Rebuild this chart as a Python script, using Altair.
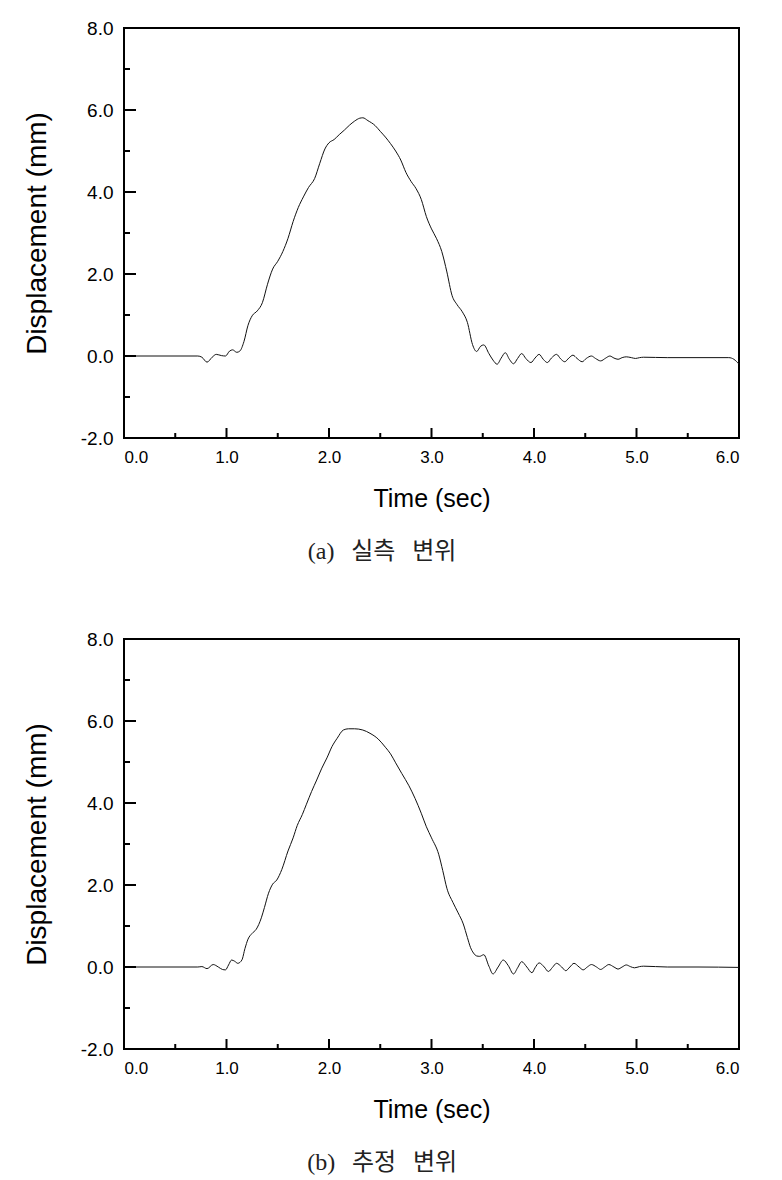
import altair as alt
import pandas as pd

# ---- data ----
t_a = [0.0, 0.72, 0.76, 0.81, 0.86, 0.90, 0.95, 0.99, 1.03, 1.06, 1.10, 1.13, 1.17, 1.21,
       1.25, 1.30, 1.35, 1.40, 1.45, 1.50, 1.55, 1.60, 1.65, 1.70, 1.75, 1.80, 1.86, 1.91,
       1.96, 2.00, 2.05, 2.10, 2.15, 2.20, 2.25, 2.30, 2.33, 2.38, 2.45, 2.50, 2.55, 2.60,
       2.65, 2.70, 2.75, 2.80, 2.85, 2.90, 2.95, 3.00, 3.05, 3.10, 3.15, 3.20, 3.25, 3.30,
       3.35, 3.40, 3.44, 3.48, 3.51, 3.56, 3.60, 3.64, 3.68, 3.72, 3.76, 3.80, 3.84, 3.88,
       3.92, 3.97, 4.01, 4.05, 4.09, 4.13, 4.17, 4.22, 4.26, 4.30, 4.34, 4.38, 4.42, 4.47,
       4.51, 4.56, 4.60, 4.65, 4.70, 4.74, 4.78, 4.82, 4.86, 4.90, 4.95, 4.99, 5.03, 5.07,
       5.30, 5.60, 5.90, 5.95, 6.0]
d_a = [0.0, 0.0, -0.03, -0.15, -0.03, 0.04, 0.01, 0.0, 0.12, 0.15, 0.09, 0.12, 0.35, 0.75,
       0.98, 1.10, 1.30, 1.75, 2.12, 2.31, 2.55, 2.87, 3.28, 3.62, 3.88, 4.11, 4.33, 4.70,
       5.05, 5.20, 5.28, 5.40, 5.51, 5.63, 5.73, 5.80, 5.81, 5.74, 5.62, 5.48, 5.34, 5.18,
       5.00, 4.78, 4.48, 4.26, 4.08, 3.82, 3.40, 3.10, 2.86, 2.55, 2.05, 1.48, 1.25, 1.08,
       0.82, 0.28, 0.11, 0.24, 0.27, 0.06, -0.10, -0.20, -0.05, 0.08, -0.08, -0.19, -0.06, 0.06,
       -0.06, -0.16, -0.05, 0.04, -0.08, -0.16, -0.05, 0.04, -0.07, -0.14, -0.05, 0.02, -0.06, -0.14,
       -0.06, 0.0, -0.06, -0.12, -0.05, 0.0, -0.05, -0.08, -0.04, -0.02, -0.04, -0.06, -0.04, -0.03,
       -0.04, -0.04, -0.04, -0.08, -0.20]

t_b = [0.0, 0.72, 0.76, 0.81, 0.87, 0.92, 0.96, 0.99, 1.02, 1.05, 1.08, 1.11, 1.15, 1.18,
       1.21, 1.25, 1.29, 1.34, 1.37, 1.41, 1.45, 1.49, 1.54, 1.60, 1.65, 1.69, 1.74, 1.78,
       1.83, 1.88, 1.93, 1.98, 2.03, 2.08, 2.14, 2.19, 2.25, 2.33, 2.40, 2.48, 2.55, 2.60,
       2.65, 2.71, 2.78, 2.84, 2.90, 2.95, 3.00, 3.07, 3.11, 3.15, 3.21, 3.26, 3.31, 3.35,
       3.38, 3.41, 3.44, 3.47, 3.51, 3.56, 3.60, 3.65, 3.70, 3.75, 3.80, 3.84, 3.88, 3.93,
       3.98, 4.01, 4.05, 4.10, 4.14, 4.18, 4.22, 4.27, 4.31, 4.35, 4.39, 4.44, 4.48, 4.52,
       4.56, 4.61, 4.65, 4.69, 4.73, 4.78, 4.82, 4.86, 4.90, 4.94, 4.98, 5.03, 5.07, 5.30,
       5.60, 6.0]
d_b = [0.0, 0.0, 0.01, -0.04, 0.06, 0.0, -0.06, -0.07, 0.05, 0.17, 0.14, 0.09, 0.17, 0.45,
       0.68, 0.82, 0.92, 1.20, 1.45, 1.80, 2.02, 2.12, 2.38, 2.83, 3.15, 3.45, 3.72, 3.97,
       4.28, 4.56, 4.85, 5.10, 5.38, 5.58, 5.78, 5.81, 5.81, 5.78, 5.70, 5.56, 5.36, 5.20,
       4.98, 4.72, 4.42, 4.11, 3.75, 3.42, 3.15, 2.75, 2.35, 1.92, 1.57, 1.32, 1.05, 0.72,
       0.48, 0.34, 0.27, 0.26, 0.30, 0.02, -0.17, 0.0, 0.17, 0.03, -0.17, -0.02, 0.13, 0.0,
       -0.14, -0.02, 0.10, 0.0, -0.11, -0.01, 0.09, 0.0, -0.09, 0.0, 0.09, 0.0, -0.07, 0.0,
       0.06, 0.0, -0.06, 0.0, 0.06, 0.0, -0.05, 0.0, 0.05, 0.01, -0.02, 0.01, 0.02, 0.0,
       0.0, -0.01]

x_major = [0, 1, 2, 3, 4, 5, 6]
x_minor = [0.5, 1.5, 2.5, 3.5, 4.5, 5.5]
y_major = [-2, 0, 2, 4, 6, 8]
y_minor = [-1, 1, 3, 5, 7]

caption_a = "(a)\u2002\u2009실측\u2002\u2009변위"
caption_b = "(b)\u2002\u2009추정\u2002\u2009변위"

W, H = 615, 410
SANS = "Liberation Sans"
CAP_FONT = "'Liberation Serif', 'Noto Sans CJK KR'"
LABEL_EXPR = "datum.value < 0 ? '-' + format(-datum.value, '.1f') : format(datum.value, '.1f')"

x_scale = alt.Scale(domain=[0, 6], nice=False, zero=False)
y_scale = alt.Scale(domain=[-2, 8], nice=False, zero=False)

x_axis = alt.Axis(values=x_major, labelExpr=LABEL_EXPR, title="Time (sec)", ticks=False,
                  tickSize=0, domain=False, grid=False, labelFont=SANS,
                  labelFontSize=17, labelColor="black", labelPadding=11,
                  titleFont=SANS, titleFontSize=25, titleFontWeight="normal",
                  titleColor="black", titlePadding=21)
y_axis = alt.Axis(values=y_major, labelExpr=LABEL_EXPR, title="Displacement (mm)",
                  ticks=False, tickSize=0, domain=False, grid=False,
                  labelFont=SANS, labelFontSize=19, labelColor="black",
                  labelPadding=11, titleFont=SANS, titleFontSize=28,
                  titleFontWeight="normal", titleColor="black", titlePadding=29)


def panel(t, d, caption):
    df = pd.DataFrame({"t": t, "d": d})
    line = alt.Chart(df).mark_line(color="#111111", strokeWidth=1, interpolate="monotone").encode(
        x=alt.X("t:Q", scale=x_scale, axis=x_axis),
        y=alt.Y("d:Q", scale=y_scale, axis=y_axis),
    )
    ymaj = alt.Chart(pd.DataFrame({"v": y_major})).mark_rule(color="black", strokeWidth=2).encode(
        y=alt.Y("v:Q", scale=y_scale, axis=y_axis), x=alt.value(0), x2=alt.value(12))
    ymin = alt.Chart(pd.DataFrame({"v": y_minor})).mark_rule(color="black", strokeWidth=2).encode(
        y=alt.Y("v:Q", scale=y_scale, axis=y_axis), x=alt.value(0), x2=alt.value(6))
    xmaj = alt.Chart(pd.DataFrame({"u": x_major})).mark_rule(color="black", strokeWidth=2).encode(
        x=alt.X("u:Q", scale=x_scale, axis=x_axis), y=alt.value(H), y2=alt.value(H - 10))
    xmin = alt.Chart(pd.DataFrame({"u": x_minor})).mark_rule(color="black", strokeWidth=2).encode(
        x=alt.X("u:Q", scale=x_scale, axis=x_axis), y=alt.value(H), y2=alt.value(H - 5))
    return alt.layer(line, ymaj, ymin, xmaj, xmin).properties(
        width=W, height=H,
        title=alt.TitleParams(text=caption, orient="bottom", anchor="middle", frame="bounds",
                              font=CAP_FONT, fontSize=24, fontWeight="normal",
                              color="#222222", offset=29),
    )


chart = alt.vconcat(panel(t_a, d_a, caption_a), panel(t_b, d_b, caption_b), spacing=64).properties(
    padding={"left": 14, "top": 10, "right": 5, "bottom": 5},
    background="white",
).configure_view(stroke="black", strokeWidth=2)

chart.save("out.html", embed_options={"renderer": "svg", "actions": False})
